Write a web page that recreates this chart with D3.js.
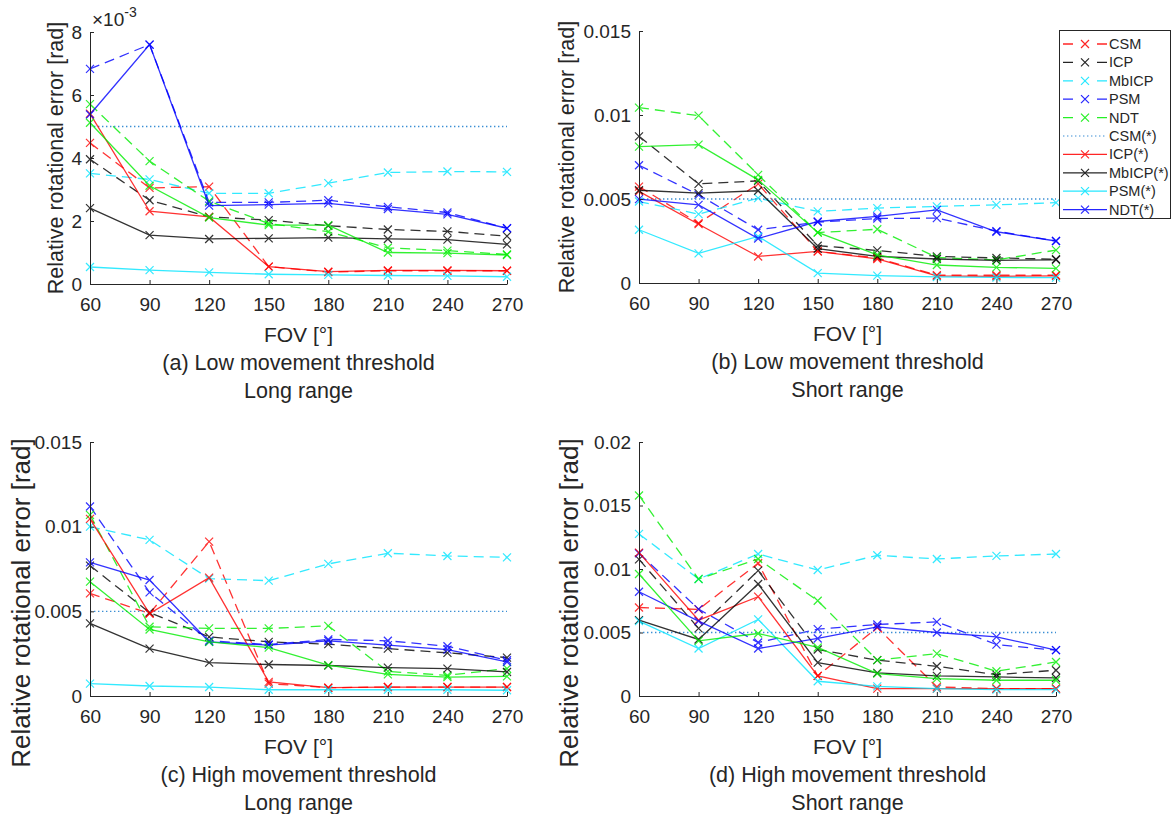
<!DOCTYPE html>
<html>
<head>
<meta charset="utf-8">
<script src="https://d3js.org/d3.v7.min.js"></script>
<style>
  body { margin: 0; background: #fff; }
  svg text { font-family: "Liberation Sans", Arial, sans-serif; fill: #262626; }
</style>
</head>
<body>
<svg width="1173" height="814"></svg>
<script>
// x values (FOV in degrees)
const fov = [60, 90, 120, 150, 180, 210, 240, 270];

// legend labels, in plot order (last green solid series has no legend entry)
const legendLabels = ["CSM", "ICP", "MbICP", "PSM", "NDT", "CSM(*)", "ICP(*)", "MbICP(*)", "PSM(*)", "NDT(*)"];

// threshold drawn as the dotted line, x1e-3 rad
const threshold = 5;

// values in x1e-3 rad. rows: CSM, ICP, MbICP, PSM, NDT (dashed),
// then ICP(*), MbICP(*), PSM(*), NDT(*), green solid
const lowLong = [
  [4.48, 3.05, 3.09, 0.55, 0.38, 0.42, 0.42, 0.42],
  [3.96, 2.66, 2.13, 2.03, 1.85, 1.73, 1.67, 1.52],
  [3.51, 3.32, 2.88, 2.88, 3.20, 3.54, 3.57, 3.56],
  [6.83, 7.60, 2.59, 2.59, 2.66, 2.45, 2.27, 1.77],
  [5.71, 3.90, 2.63, 1.92, 1.66, 1.15, 1.06, 0.94],
  [5.41, 2.31, 2.13, 0.55, 0.39, 0.43, 0.43, 0.42],
  [2.41, 1.55, 1.43, 1.45, 1.47, 1.43, 1.41, 1.26],
  [0.54, 0.44, 0.37, 0.31, 0.29, 0.27, 0.26, 0.23],
  [5.38, 7.60, 2.49, 2.52, 2.56, 2.38, 2.21, 1.77],
  [5.12, 3.12, 2.11, 1.87, 1.87, 1.00, 0.98, 0.92]
];

const lowShort = [
  [5.74, 3.56, 5.90, 1.88, 1.49, 0.46, 0.46, 0.46],
  [8.73, 5.90, 6.08, 2.22, 1.94, 1.58, 1.49, 1.42],
  [4.85, 4.10, 5.05, 4.26, 4.46, 4.56, 4.65, 4.78],
  [7.01, 5.25, 3.17, 3.62, 3.84, 3.86, 3.09, 2.50],
  [10.44, 9.96, 6.44, 3.00, 3.20, 1.52, 1.37, 1.96],
  [5.45, 3.50, 1.58, 1.88, 1.43, 0.42, 0.40, 0.42],
  [5.52, 5.35, 5.49, 2.04, 1.58, 1.43, 1.35, 1.38],
  [3.17, 1.76, 2.77, 0.59, 0.44, 0.36, 0.33, 0.32],
  [4.99, 4.65, 2.65, 3.66, 3.96, 4.35, 3.05, 2.50],
  [8.12, 8.24, 6.14, 3.01, 1.68, 1.07, 0.93, 0.87]
];

const highLong = [
  [6.06, 4.87, 9.12, 0.73, 0.49, 0.53, 0.53, 0.53],
  [7.70, 4.93, 3.49, 3.20, 3.06, 2.80, 2.55, 2.27],
  [10.00, 9.22, 6.93, 6.81, 7.80, 8.43, 8.27, 8.19],
  [11.19, 6.12, 3.26, 3.04, 3.34, 3.26, 2.94, 2.11],
  [10.70, 4.09, 3.99, 3.99, 4.14, 1.45, 1.22, 1.62],
  [10.46, 4.87, 6.99, 0.83, 0.49, 0.53, 0.53, 0.53],
  [4.29, 2.80, 1.97, 1.86, 1.80, 1.68, 1.62, 1.42],
  [0.73, 0.59, 0.53, 0.37, 0.37, 0.37, 0.37, 0.34],
  [7.89, 6.85, 3.20, 3.00, 3.26, 3.00, 2.74, 2.01],
  [6.75, 3.93, 3.20, 2.86, 1.82, 1.28, 1.12, 1.16]
];

const highShort = [
  [6.97, 6.82, 10.45, 1.58, 5.39, 0.71, 0.58, 0.58],
  [10.76, 5.32, 9.87, 3.66, 2.82, 2.34, 1.68, 2.03],
  [12.76, 9.21, 11.18, 9.92, 11.08, 10.79, 11.03, 11.18],
  [11.24, 6.84, 4.21, 5.26, 5.63, 5.84, 4.05, 3.61],
  [15.79, 9.21, 10.79, 7.50, 2.82, 3.34, 1.95, 2.68],
  [11.29, 5.97, 7.82, 1.58, 0.58, 0.58, 0.58, 0.58],
  [5.97, 4.45, 8.82, 2.63, 1.82, 1.58, 1.50, 1.42],
  [5.89, 3.74, 6.03, 1.16, 0.76, 0.58, 0.50, 0.50],
  [8.21, 5.89, 3.74, 4.53, 5.45, 5.00, 4.66, 3.61],
  [9.61, 4.34, 4.92, 3.82, 1.76, 1.37, 1.24, 1.24]
];

const yTicksA = [0, 2, 4, 6, 8];
const yTicksB = [0, 5, 10, 15];
const yTicksD = [0, 5, 10, 15, 20];

const captions = [
  ["(a) Low movement threshold", "Long range"],
  ["(b) Low movement threshold", "Short range"],
  ["(c) High movement threshold", "Long range"],
  ["(d) High movement threshold", "Short range"]
];

// styles per row of the data arrays
const rowColor = ["#ff0000", "#000000", "#00e5ff", "#0000ff", "#00ee00",
                  "#ff0000", "#000000", "#00e5ff", "#0000ff", "#00ee00"];
const rowDash  = [true, true, true, true, true, false, false, false, false, false];
const dotColor = "#3b8ed4";

const svg = d3.select("svg");

const panels = [
  {data: lowLong,  ticks: yTicksA, ymax: 8,  left: 90,  right: 507,  top: 32,  bottom: 284, sci: true,
   ylab: {x: 55, y: 158, size: 21.5}, cap: captions[0]},
  {data: lowShort, ticks: yTicksB, ymax: 15, left: 639, right: 1056, top: 31,  bottom: 283, sci: false,
   ylab: {x: 566, y: 157, size: 21.5}, cap: captions[1]},
  {data: highLong, ticks: yTicksB, ymax: 15, left: 90,  right: 507,  top: 442, bottom: 696, sci: false,
   ylab: {x: 21, y: 603, size: 26}, cap: captions[2]},
  {data: highShort, ticks: yTicksD, ymax: 20, left: 639, right: 1056, top: 442, bottom: 696, sci: false,
   ylab: {x: 569, y: 603, size: 26}, cap: captions[3]}
];

function cross(g, cx, cy, color) {
  const s = 4;
  g.append("path")
    .attr("d", `M${cx - s},${cy - s}L${cx + s},${cy + s}M${cx - s},${cy + s}L${cx + s},${cy - s}`)
    .attr("stroke", color)
    .attr("stroke-width", 1.2)
    .attr("fill", "none");
}

panels.forEach(p => {
  const x = d3.scaleLinear().domain([60, 270]).range([p.left, p.right]);
  const y = d3.scaleLinear().domain([0, p.ymax]).range([p.bottom, p.top]);
  const g = svg.append("g");

  const line = d3.line().x((d, i) => x(fov[i])).y(d => y(d));

  const plotRow = (i) => {
    const vals = p.data[i];
    const lg = g.append("g").attr("opacity", 0.8);
    lg.append("path")
      .datum(vals)
      .attr("d", line)
      .attr("fill", "none")
      .attr("stroke", rowColor[i])
      .attr("stroke-width", 1.3)
      .attr("stroke-dasharray", rowDash[i] ? "10,6" : null);
    vals.forEach((v, k) => cross(lg, x(fov[k]), y(v), rowColor[i]));
  };

  // dashed series first, then threshold, then solid ones
  for (let i = 0; i < 5; i++) plotRow(i);

  g.append("line")
    .attr("x1", x(60)).attr("x2", x(270))
    .attr("y1", y(threshold)).attr("y2", y(threshold))
    .attr("stroke", dotColor)
    .attr("stroke-width", 1.4)
    .attr("stroke-dasharray", "1.4,2.6");

  for (let i = 5; i < 10; i++) plotRow(i);

  // axes
  const xAxis = g.append("g")
    .attr("transform", `translate(0,${p.bottom})`)
    .call(d3.axisBottom(x).tickValues(fov).tickSizeInner(-4).tickSizeOuter(0).tickPadding(14));
  const yAxis = g.append("g")
    .attr("transform", `translate(${p.left},0)`)
    .call(d3.axisLeft(y).tickValues(p.ticks).tickSizeInner(-4).tickSizeOuter(0).tickPadding(8)
      .tickFormat(d => p.sci ? String(d) : (d === 0 ? "0" : String(d / 1000))));
  [xAxis, yAxis].forEach(a => {
    a.selectAll("path, line").attr("stroke", "#262626");
    a.selectAll("text").style("font-size", "19px").attr("fill", "#262626");
  });

  if (p.sci) {
    const t = g.append("text").attr("x", p.left + 2).attr("y", 26).style("font-size", "19px");
    t.append("tspan").text("\u00d710");
    t.append("tspan").attr("dy", -9).style("font-size", "14px").text("-3");
  }

  const cx = (p.left + p.right) / 2;
  g.append("text")
    .attr("x", cx).attr("y", p.bottom + 51).attr("dy", "0.35em")
    .attr("text-anchor", "middle")
    .style("font-size", "21px")
    .text("FOV [\u00b0]");
  g.append("text")
    .attr("x", cx).attr("y", p.bottom + 78).attr("dy", "0.35em")
    .attr("text-anchor", "middle")
    .style("font-size", "21.5px")
    .text(p.cap[0]);
  g.append("text")
    .attr("x", cx).attr("y", p.bottom + 106).attr("dy", "0.35em")
    .attr("text-anchor", "middle")
    .style("font-size", "21.5px")
    .text(p.cap[1]);

  g.append("text")
    .attr("transform", `translate(${p.ylab.x},${p.ylab.y}) rotate(-90)`)
    .attr("text-anchor", "middle")
    .attr("dy", "0.35em")
    .style("font-size", p.ylab.size + "px")
    .text("Relative rotational error [rad]");
});

// legend
const legend = svg.append("g");
legend.append("rect")
  .attr("x", 1059.5).attr("y", 30.5)
  .attr("width", 111).attr("height", 188)
  .attr("fill", "#fff")
  .attr("stroke", "#262626");

const legColor = ["#ff0000", "#000000", "#00e5ff", "#0000ff", "#00ee00", dotColor,
                  "#ff0000", "#000000", "#00e5ff", "#0000ff"];
legendLabels.forEach((lab, i) => {
  const yy = 44 + i * 18.4;
  const row = legend.append("g").attr("opacity", i === 5 ? 1 : 0.85);
  row.append("line")
    .attr("x1", 1063).attr("x2", 1107)
    .attr("y1", yy).attr("y2", yy)
    .attr("stroke", legColor[i])
    .attr("stroke-width", i === 5 ? 1.2 : 1.3)
    .attr("stroke-dasharray", i < 5 ? "10,24" : (i === 5 ? "1.4,2.6" : null));
  if (i !== 5) cross(row, 1085, yy, legColor[i]);
  legend.append("text")
    .attr("x", 1109).attr("y", yy).attr("dy", "0.35em")
    .style("font-size", "14.5px")
    .text(lab);
});
</script>
</body>
</html>
